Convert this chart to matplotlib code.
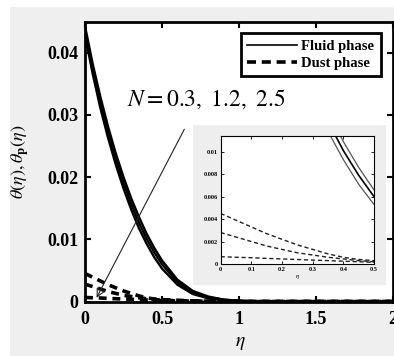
import matplotlib
matplotlib.use("Agg")
import matplotlib.pyplot as plt
from matplotlib.patches import Rectangle
from matplotlib.lines import Line2D

plt.rcParams['font.family'] = ['Liberation Serif', 'DejaVu Serif']
plt.rcParams['mathtext.fontset'] = 'stix'

# eta grid and values
eta = [0, 0.05, 0.1, 0.15, 0.2, 0.25, 0.3, 0.35, 0.4, 0.45, 0.5,
       0.6, 0.7, 0.8, 0.9, 1.0, 1.1, 1.25, 1.5, 2.0]

fluid_a = [0.0443, 0.0382, 0.0329, 0.0281, 0.0238, 0.0200, 0.0166, 0.0136, 0.0109, 0.0086, 0.0066,
           0.0035, 0.0017, 0.0008, 0.0003, 0.00012, 0.00004, 0, 0, 0]
fluid_b = [0.0436, 0.0374, 0.0320, 0.0272, 0.0229, 0.0191, 0.0157, 0.0127, 0.0101, 0.0079, 0.0060,
           0.0031, 0.0015, 0.0007, 0.0003, 0.0001, 0.00003, 0, 0, 0]
fluid_c = [0.0429, 0.0366, 0.0311, 0.0263, 0.0220, 0.0182, 0.0148, 0.0118, 0.0093, 0.0071, 0.0053,
           0.0027, 0.0012, 0.0005, 0.0002, 0.00008, 0.00002, 0, 0, 0]

dust_a = [0.0045, 0.0039, 0.0033, 0.0027, 0.0022, 0.0017, 0.0013, 0.0009, 0.0006, 0.0004, 0.0003,
          0.0002, 0.0001, 0.00005, 0.00002, 0, 0, 0, 0, 0]
dust_b = [0.0028, 0.0024, 0.0020, 0.0016, 0.0013, 0.0010, 0.0008, 0.0006, 0.00045, 0.0003, 0.0002,
          0.00012, 0.00006, 0.00003, 0.00001, 0, 0, 0, 0, 0]
dust_c = [0.00065, 0.0006, 0.00056, 0.0005, 0.00045, 0.0004, 0.00035, 0.0003, 0.00025, 0.0002, 0.00015,
          0.0001, 0.00006, 0.00003, 0.00001, 0, 0, 0, 0, 0]

fluids = [fluid_a, fluid_b, fluid_c]
dusts = [dust_a, dust_b, dust_c]

W, H = 394, 356
fig = plt.figure(figsize=(W / 100, H / 100), dpi=100, facecolor='white')

# grey page behind everything
fig.add_artist(Rectangle((10 / W, 0), 1, (H - 7) / H, transform=fig.transFigure,
                         facecolor='#efefef', edgecolor='none', zorder=-1))

ax = fig.add_axes([85 / W, (H - 301.5) / H, (393 - 85) / W, (301.5 - 21.7) / H])
ax.set_facecolor('white')
for f in fluids:
    ax.plot(eta, f, color='black', lw=1.7)
for d in dusts:
    ax.plot(eta, d, color='black', lw=2.6, dashes=(2.2, 1.6))
ax.set_xlim(0, 2)
ax.set_ylim(0, 0.045)
ax.set_xticks([0, 0.5, 1, 1.5, 2])
ax.set_xticklabels(['0', '0.5', '1', '1.5', '2'], fontweight='bold')
ax.set_yticks([0, 0.01, 0.02, 0.03, 0.04])
ax.set_yticklabels(['0', '0.01', '0.02', '0.03', '0.04'], fontweight='bold')
ax.tick_params(direction='in', length=4, width=1.5, labelsize=13, top=True, right=True)
ax.tick_params(axis='x', pad=7)
ax.tick_params(axis='y', pad=5)
for s in ax.spines.values():
    s.set_linewidth(2)

fig.text(240 / W, (H - 343) / H, r'$\eta$', fontsize=14, ha='center', va='center')
fig.text(20 / W, (H - 162) / H, r'$\theta(\eta),\theta_{\mathbf{p}}(\eta)$', fontsize=13,
         fontweight='bold', rotation=90, ha='center', va='center')

ax.text(0.27, 0.0325, r'$N = 0.3,\ 1.2,\ 2.5$', fontsize=17, ha='left', va='center')
ax.annotate('', xy=(0.075, 0.0006), xytext=(0.645, 0.0277),
            arrowprops=dict(arrowstyle='-|>', color='#222222', lw=0.8,
                            mutation_scale=14, shrinkA=0, shrinkB=0, fill=False))

handles = [Line2D([], [], color='black', lw=1.2),
           Line2D([], [], color='black', lw=2.6, dashes=(2.5, 1.6))]
leg = ax.legend(handles, ['Fluid phase', 'Dust phase'], loc='upper right',
                bbox_to_anchor=(381 / W, (H - 33) / H), bbox_transform=fig.transFigure,
                borderaxespad=0, fancybox=False, framealpha=1, edgecolor='black',
                prop={'size': 10.5, 'weight': 'bold'}, handlelength=3.4,
                handletextpad=0.3, labelspacing=0.25, borderpad=0.45)
leg.get_frame().set_linewidth(2)

# inset
fig.add_artist(Rectangle((193 / W, (H - 285) / H), (386 - 193) / W, (285 - 125) / H,
                         transform=fig.transFigure, facecolor='#eeeeee',
                         edgecolor='none', zorder=1))
axi = fig.add_axes([220.7 / W, (H - 264) / H, (374 - 220.7) / W, (264 - 136) / H], zorder=2)
axi.set_facecolor('white')
axi.plot(eta, fluid_a, color='#555555', lw=0.9)
axi.plot(eta, fluid_b, color='black', lw=1.2)
axi.plot(eta, fluid_c, color='#555555', lw=0.9)
for d in dusts:
    axi.plot(eta, d, color='#222222', lw=1.0, dashes=(3, 2))
axi.set_xlim(0, 0.5)
axi.set_ylim(0, 0.0114)
axi.set_xticks([0, 0.1, 0.2, 0.3, 0.4, 0.5])
axi.set_xticklabels(['0', '0.1', '0.2', '0.3', '0.4', '0.5'], fontweight='bold')
axi.set_yticks([0, 0.002, 0.004, 0.006, 0.008, 0.01])
axi.set_yticklabels(['0', '0.002', '0.004', '0.006', '0.008', '0.01'], fontweight='bold')
axi.tick_params(direction='in', length=2, width=0.6, labelsize=4.5, top=True, right=True, pad=2)
for s in axi.spines.values():
    s.set_linewidth(0.8)
axi.set_xlabel(r'$\eta$', fontsize=5, labelpad=1)

fig.savefig('out.png', dpi=100)
